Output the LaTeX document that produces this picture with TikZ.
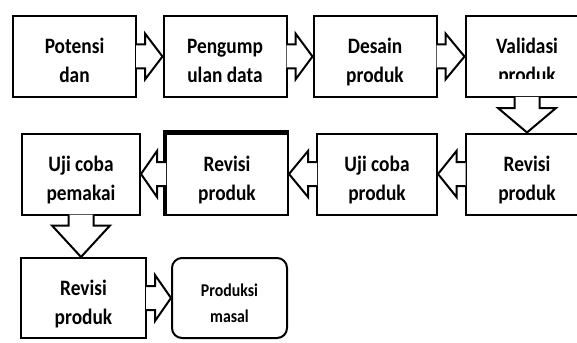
\documentclass[tikz,border=0pt]{standalone}
\usepackage{fontspec}
\usepackage{tikz}
\usetikzlibrary{calc,shapes}
\newfontfamily\boxfont[FakeStretch=0.88]{Carlito}
\tikzset{
  boxtext/.style = {shape=rectangle, align=center, inner sep=0pt,
                    font=\boxfont\bfseries\fontsize{22}{29}\selectfont,
                    text height=52pt, text depth=0pt},
  box/.style     = {boxtext, draw, line width=2pt,
                    minimum width=123pt, minimum height=81pt},
  last/.style    = {shape=rectangle, align=center, inner sep=0pt,
                    draw, line width=2pt, rounded corners=10pt,
                    minimum width=115pt, minimum height=81pt,
                    font=\boxfont\bfseries\fontsize{18}{26}\selectfont,
                    text height=48pt, text depth=0pt},
  call/.style    = {draw, line width=2pt, preaction={fill=white}},
  heavy/.style   = {draw, line width=4.5pt}
}
% callout arrows from one box to the next
\newcommand{\callRight}[2]{\path [call] ($(#1.east)+(-1,12)$) -- ++(9,0) -- ++(0,11) -- (#2.west |- #1.east) -- ($(#1.east)+(8,-23)$) -- ++(0,11) -- ++(-9,0);}
\newcommand{\callLeft}[2]{\path [call] ($(#1.west)+(1,12)$) -- ++(-9,0) -- ++(0,11) -- (#2.east |- #1.west) -- ($(#1.west)+(-8,-23)$) -- ++(0,11) -- ++(9,0);}
\newcommand{\callDown}[2]{\path [call] ($(#1.south)+(-12.5,1)$) -- ++(0,-11) -- ++(-16.5,0) -- (#1.south |- #2.north) -- ($(#1.south)+(29,-10)$) -- ++(-16.5,0) -- ++(0,11);}

\begin{document}
\begin{tikzpicture}[x=1pt,y=1pt]
	\useasboundingbox (0,0) rectangle (577,-342);
	\clip (0,0) rectangle (577,-342);
	% Place nodes
	% Level 1
	\node [box] (potensi) at (74.5,-56.5) {Potensi\\dan};
	\node [box, right of=potensi, node distance=150.5pt] (pengumpulan) {Pengump\\ulan data}; \callRight{potensi}{pengumpulan}
	\node [box, right of=pengumpulan, node distance=150pt] (desain) {Desain\\produk}; \callRight{pengumpulan}{desain}
	\node [box, right of=desain, node distance=152pt] (validasi) {}; \callRight{desain}{validasi}
	\begin{scope}
		\clip (validasi.north west) rectangle ($(validasi.center)+(70,-22.5)$);
		\node [boxtext] (validasiText) at (validasi.center) {Validasi\\produk};
	\end{scope}
	% Level 2
	\node [box, below of=validasi, node distance=117.5pt] (revisiKanan) {Revisi\\produk}; \callDown{validasi}{revisiKanan}
	\node [box, left of=revisiKanan, node distance=150pt, minimum width=120pt] (ujiProduk) {Uji coba\\produk}; \callLeft{revisiKanan}{ujiProduk}
	\node [box, left of=ujiProduk, node distance=150pt, minimum width=122pt] (revisiTengah) {Revisi\\produk}; \callLeft{ujiProduk}{revisiTengah}
	\draw [heavy] ($(revisiTengah.west)+(0,12)$) -- (revisiTengah.north west) -- (revisiTengah.north east);
	\draw [heavy] ($(revisiTengah.west)+(0,-12)$) -- (revisiTengah.south west);
	\node [box, left of=revisiTengah, node distance=146pt, minimum width=118pt] (ujiPemakai) {Uji coba\\pemakai}; \callLeft{revisiTengah}{ujiPemakai}
	% Level 3
	\node [box, below of=ujiPemakai, node distance=124pt, xshift=2.5pt, minimum width=125pt, minimum height=80pt] (revisiKiri) {Revisi\\produk}; \callDown{ujiPemakai}{revisiKiri}
	\node [last, right of=revisiKiri, node distance=146pt, minimum height=80pt] (produksi) {Produksi\\masal}; \callRight{revisiKiri}{produksi}
\end{tikzpicture}
\end{document}
